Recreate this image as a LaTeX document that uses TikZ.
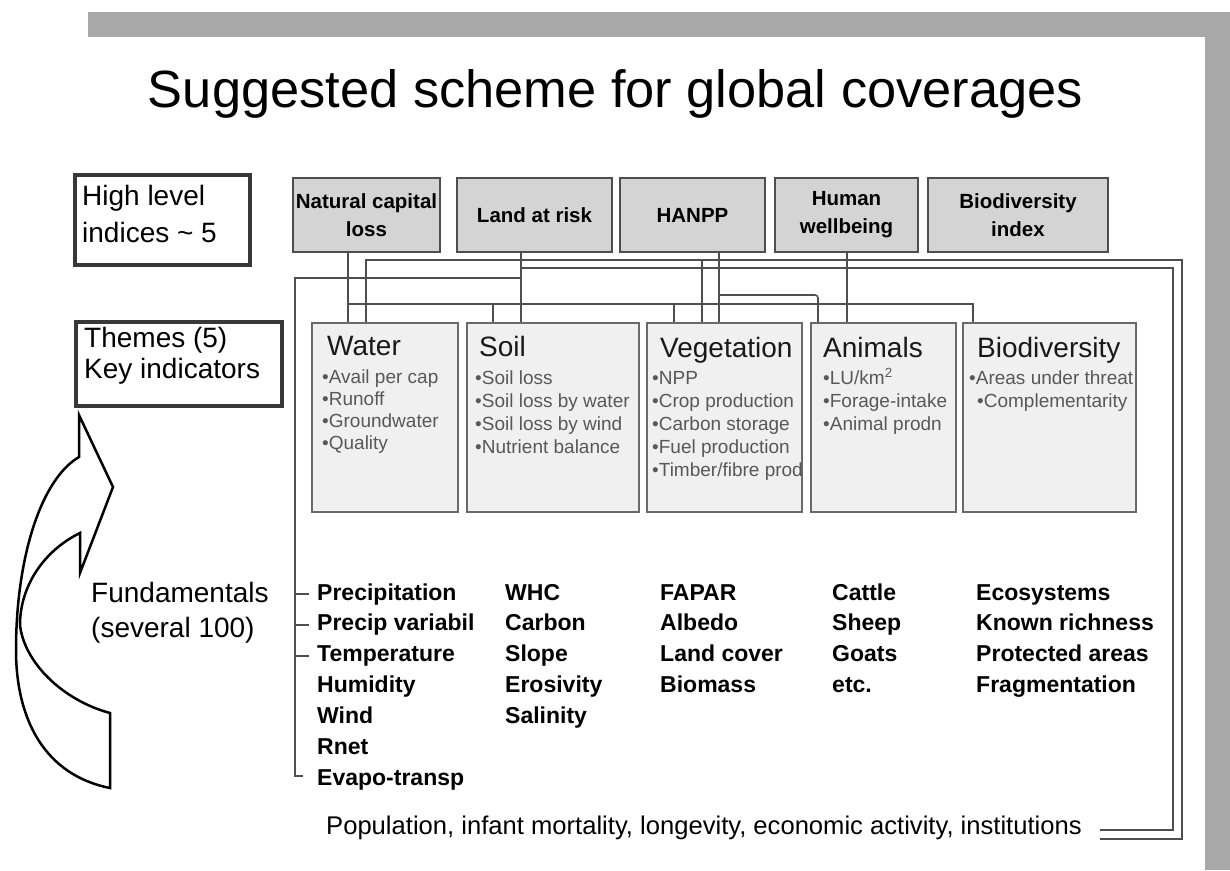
\documentclass[tikz,border=0pt]{standalone}
\usepackage{fontspec}
\setmainfont{Liberation Sans}
\usetikzlibrary{calc}

\definecolor{framegray}{HTML}{A9A9A9}
\definecolor{linegray}{HTML}{4E4E4E}
\definecolor{topfill}{HTML}{D4D4D4}
\definecolor{themefill}{HTML}{F0F0F0}
\definecolor{themeline}{HTML}{6A6A6A}
\definecolor{itemgray}{HTML}{585858}

\newcommand{\setpx}[2]{\fontsize{#1pt}{#2pt}\selectfont}

\tikzset{
  topbox/.style={draw=linegray, line width=1.8pt, fill=topfill, minimum height=74pt,
    inner sep=0pt, align=center, font=\setpx{20.5}{28}\bfseries},
  themebox/.style={draw=themeline, line width=1.5pt, fill=themefill, minimum height=189pt, inner sep=0pt},
  labelbox/.style={draw=black!78, line width=4pt, fill=white, inner sep=0pt},
  labeltext/.style={anchor=base west, inner sep=0pt, font=\setpx{28}{32}},
  conn/.style={draw=linegray, line width=1.6pt},
  ttl/.style={anchor=base west, inner sep=0pt, font=\setpx{28}{32}, text=black!90},
  item/.style={anchor=base west, inner sep=0pt, font=\setpx{19}{23}, text=itemgray},
  fund/.style={anchor=base west, inner sep=0pt, font=\setpx{23}{28}\bfseries},
}

\begin{document}
\begin{tikzpicture}[x=1pt, y=-1pt]
\useasboundingbox (0,0) rectangle (1230,870);
\fill[white] (0,0) rectangle (1230,870);

% slide frame
\fill[framegray] (88,12) rectangle (1230,37);
\fill[framegray] (1205,12) rectangle (1230,870);

% title
\node[anchor=base, inner sep=0pt, font=\setpx{52.4}{60}] (title) at (615.5,107)
  {Suggested scheme for global coverages};

% level labels
\node[labelbox, minimum width=175pt, minimum height=90pt] (hl) at (162.5,220) {};
\node[labeltext] (hl1) at (82,205) {High level};
\node[labeltext] (hl2) at (82,242) {indices \textasciitilde{} 5};
\node[labelbox, minimum width=206pt, minimum height=84pt] (th) at (179,364) {};
\node[labeltext] (th1) at (84,347) {Themes (5)};
\node[labeltext] (th2) at (84,378) {Key indicators};
\node[labeltext] (fu1) at (91,602) {Fundamentals};
\node[labeltext] (fu2) at (91,637) {(several 100)};

% curved block arrow
\draw[line width=2.5pt, fill=white, line join=miter] (79,415) -- (113,487) -- (80,573) -- (80,533)
  .. controls (45,550) and (20,585) .. (20,625)
  .. controls (24,662) and (62,700) .. (110,713)
  -- (110,788)
  .. controls (45,775) and (16,720) .. (16,650)
  .. controls (16,560) and (40,480) .. (79,457) -- cycle;

% high level indices
\node[topbox, minimum width=147pt] (ncl)   at (366.5,215) {Natural capital\\loss};
\node[topbox, minimum width=155pt] (lar)   at (534.5,215) {Land at risk};
\node[topbox, minimum width=145pt] (hanpp) at (692.5,215) {HANPP};
\node[topbox, minimum width=143pt] (hw)    at (846.5,215) {Human\\wellbeing};
\node[topbox, minimum width=180pt] (bdi)   at (1018,215)  {Biodiversity\\index};

% theme boxes
\node[themebox, minimum width=146pt] (water) at (385,417.5) {};
\node[themebox, minimum width=172pt] (soil)  at (553,417.5) {};
\node[themebox, minimum width=155pt] (veg)   at (724.5,417.5) {};
\node[themebox, minimum width=145pt] (anim)  at (883.5,417.5) {};
\node[themebox, minimum width=173pt] (biod)  at (1049.5,417.5) {};

% theme contents
\node[ttl] (wt) at (327,355) {Water};
\node[item] (w1) at (322,383) {\textbullet Avail per cap};
\node[item] (w2) at (322,405) {\textbullet Runoff};
\node[item] (w3) at (322,427) {\textbullet Groundwater};
\node[item] (w4) at (322,449) {\textbullet Quality};

\node[ttl] (st) at (479,356) {Soil};
\node[item] (s1) at (475,384) {\textbullet Soil loss};
\node[item] (s2) at (475,407) {\textbullet Soil loss by water};
\node[item] (s3) at (475,430) {\textbullet Soil loss by wind};
\node[item] (s4) at (475,453) {\textbullet Nutrient balance};

\node[ttl] (vt) at (660,357) {Vegetation};
\node[item] (v1) at (652,384) {\textbullet NPP};
\node[item] (v2) at (652,407) {\textbullet Crop production};
\node[item] (v3) at (652,430) {\textbullet Carbon storage};
\node[item] (v4) at (652,453) {\textbullet Fuel production};
\node[item] (v5) at (652,476) {\textbullet Timber/fibre prod};

\node[ttl] (at) at (823,357) {Animals};
\node[item] (a1) at (823,384) {\textbullet LU/km\textsuperscript{2}};
\node[item] (a2) at (823,407) {\textbullet Forage-intake};
\node[item] (a3) at (823,430) {\textbullet Animal prodn};

\node[ttl] (bt) at (977,357) {Biodiversity};
\node[item] (b1) at (969,384) {\textbullet Areas under threat};
\node[item] (b2) at (977,407) {\textbullet Complementarity};

% fundamentals
\foreach \t [count=\i] in {Precipitation, Precip variabil, Temperature, Humidity, Wind, Rnet, Evapo-transp}
  \node[fund] (fa\i) at (317,569.1+30.9*\i) {\t};
\foreach \t [count=\i] in {WHC, Carbon, Slope, Erosivity, Salinity}
  \node[fund] (fb\i) at (505,569.1+30.9*\i) {\t};
\foreach \t [count=\i] in {FAPAR, Albedo, Land cover, Biomass}
  \node[fund] (fc\i) at (660,569.1+30.9*\i) {\t};
\foreach \t [count=\i] in {Cattle, Sheep, Goats, etc.}
  \node[fund] (fd\i) at (832,569.1+30.9*\i) {\t};
\foreach \t [count=\i] in {Ecosystems, Known richness, Protected areas, Fragmentation}
  \node[fund] (fe\i) at (976,569.1+30.9*\i) {\t};

\node[anchor=base west, inner sep=0pt, font=\setpx{25.6}{30}] (pop) at (326,834)
  {Population, infant mortality, longevity, economic activity, institutions};

% connector junctions
\coordinate (nclX)  at (348,304);
\coordinate (soilX) at (493,304);
\coordinate (vegX)  at (674,304);
\coordinate (biodX) at (973,304);
\coordinate (larX)  at (521,278);
\coordinate (larI)  at (521,268);
\coordinate (fundT) at (295,278);
\coordinate (fundB) at (295,776);
\coordinate (outA)  at (366,260);
\coordinate (outV)  at (702,260);
\coordinate (outC)  at (1182,839);
\coordinate (inC)   at (1173,830);
\coordinate (popI)  at (1100,830);
\coordinate (popO)  at (1100,839);
\coordinate (hanX)  at (719,295);
\coordinate (animH) at (818,295);
\coordinate (hwX)   at (847,295);

% natural capital loss
\draw[conn] (ncl.south -| nclX) -- (water.north -| nclX);
\draw[conn] (nclX) -| (biod.north -| biodX);
\draw[conn] (soilX) -- (soil.north -| soilX);
\draw[conn] (vegX) -- (veg.north -| vegX);

% land at risk
\draw[conn] (lar.south -| larX) -- (soil.north -| larX);
\draw[conn] (larX) -- (fundT) -- (fundB) -- ++(8,0);
\draw[conn] (fundT |- fa1.west) -- ++(14,0);
\draw[conn] (fundT |- fa2.west) -- ++(14,0);
\draw[conn] (fundT |- fa3.west) -- ++(14,0);
\draw[conn] (larI) -| (inC) -- (popI);

% water to vegetation and socio-economic fundamentals
\draw[conn] (water.north -| outA) -- (outA) -| (outC) -- (popO);
\draw[conn] (outV) -- (veg.north -| outV);

% HANPP
\draw[conn] (hanpp.south -| hanX) -- (veg.north -| hanX);
\draw[conn, rounded corners=3pt] (hanX) -| (anim.north -| animH);

% human wellbeing
\draw[conn] (hw.south -| hwX) -- (anim.north -| hwX);
\end{tikzpicture}
\end{document}
